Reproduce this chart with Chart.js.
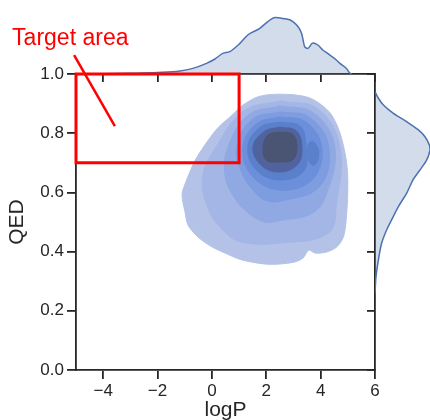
<!DOCTYPE html>
<html>
<head>
<meta charset="utf-8">
<script src="https://cdn.jsdelivr.net/npm/chart.js@4.4.1/dist/chart.umd.min.js"></script>
<style>
  html, body { margin: 0; padding: 0; background: #fff; }
  #wrap { position: relative; width: 430px; height: 420px; overflow: hidden; }
  canvas { position: absolute; top: 0; }
  #top { left: 0; z-index: 1; }
  #right { left: 300px; z-index: 1; }
  #main { left: 0; z-index: 2; }
</style>
</head>
<body>
<div id="wrap">
  <canvas id="top" width="430" height="100"></canvas>
  <canvas id="right" width="130" height="420"></canvas>
  <canvas id="main" width="430" height="420"></canvas>
</div>
<script>
Chart.defaults.font.family = '"Liberation Sans", Arial, Helvetica, sans-serif';
Chart.defaults.color = '#262626';

const axisColor = '#262626';
const xTicks = [-4, -2, 0, 2, 4, 6];
const yTicks = [0, 0.2, 0.4, 0.6, 0.8, 1.0];

// marginal density of logP (top)
const logPGrid = [-5.0, -4.0, -3.0, -2.0, -1.18, -0.70, -0.20, 0.11, 0.40, 0.66, 1.03, 1.32, 1.76, 2.06, 2.32, 2.61, 2.98, 3.30, 3.42, 3.53, 3.71, 3.90, 4.08, 4.26, 4.58, 4.71, 4.95, 5.07, 5.15];
const logPDensity = [0.000, 0.001, 0.0035, 0.0075, 0.015, 0.028, 0.053, 0.075, 0.103, 0.112, 0.153, 0.195, 0.228, 0.262, 0.283, 0.278, 0.262, 0.203, 0.135, 0.128, 0.155, 0.145, 0.120, 0.103, 0.070, 0.053, 0.028, 0.005, 0.000];

// marginal density of QED (right)
const qedGrid = [0.940, 0.918, 0.895, 0.867, 0.839, 0.811, 0.788, 0.760, 0.743, 0.709, 0.676, 0.642, 0.597, 0.552, 0.507, 0.473, 0.428, 0.372, 0.315, 0.260];
const qedDensity = [0.000, 0.017, 0.042, 0.092, 0.158, 0.217, 0.250, 0.272, 0.275, 0.258, 0.225, 0.190, 0.158, 0.117, 0.083, 0.058, 0.033, 0.017, 0.005, 0.000];

// joint KDE contour outlines [logP, QED], outermost first
const level1 = [[2.50,0.932],[3.09,0.929],[3.60,0.919],[4.04,0.895],[4.41,0.861],[4.71,0.801],[4.93,0.716],[5.00,0.642],[4.96,0.530],[4.85,0.453],[4.60,0.416],[4.23,0.399],[3.79,0.395],[3.57,0.405],[3.35,0.378],[3.05,0.365],[2.50,0.358],[1.95,0.358],[1.10,0.372],[0.48,0.395],[0.00,0.416],[-0.51,0.449],[-0.88,0.490],[-0.99,0.534],[-1.10,0.591],[-0.99,0.628],[-0.81,0.669],[-0.63,0.706],[-0.26,0.760],[0.22,0.818],[0.74,0.861],[1.10,0.892],[1.58,0.919],[1.99,0.929],[2.50,0.932]];
const level2 = [[2.50,0.909],[3.90,0.882],[4.71,0.753],[4.58,0.562],[4.29,0.463],[2.50,0.429],[1.10,0.432],[0.48,0.466],[-0.15,0.547],[-0.33,0.659],[0.15,0.753],[1.17,0.875],[2.50,0.909]];
const level3 = [[2.50,0.892],[3.75,0.868],[4.52,0.753],[4.22,0.596],[3.70,0.530],[2.50,0.505],[1.95,0.500],[1.29,0.534],[0.77,0.591],[0.48,0.659],[0.59,0.753],[1.33,0.861],[2.50,0.892]];
const level4 = [[2.50,0.872],[3.59,0.854],[4.30,0.753],[3.96,0.620],[2.50,0.570],[1.95,0.574],[1.58,0.601],[1.14,0.659],[0.92,0.753],[1.49,0.847],[2.50,0.872]];
const level5 = [[2.50,0.855],[3.44,0.839],[4.04,0.753],[3.70,0.644],[2.50,0.608],[1.46,0.658],[1.14,0.753],[1.64,0.832],[2.50,0.855]];
const level6 = [[2.50,0.838],[3.25,0.823],[3.46,0.753],[3.38,0.672],[2.50,0.642],[1.64,0.675],[1.32,0.753],[1.77,0.820],[2.50,0.838]];
const level7 = [[2.50,0.821],[3.10,0.808],[3.31,0.753],[3.15,0.694],[2.50,0.669],[1.82,0.691],[1.51,0.753],[1.93,0.806],[2.50,0.821]];
const level8 = [[2.50,0.804],[2.97,0.796],[3.13,0.753],[2.97,0.710],[2.50,0.703],[2.01,0.708],[1.88,0.753],[2.06,0.794],[2.50,0.804]];
const sideLobe = [[3.71,0.774],[3.88,0.755],[3.93,0.733],[3.88,0.705],[3.71,0.692],[3.55,0.712],[3.50,0.740],[3.56,0.765],[3.71,0.774]];

const levels = [level1, level2, level3, level4, level5, level6, level7, level8];
const levelColors = ['#b3c2e6', '#a3b6e5', '#91a9e3', '#7e9ce0', '#6b8fda', '#5a80cc', '#50639f', '#4a5473'];

// annotation
const targetBox = [[-5, 1.0], [1, 1.0], [1, 0.7], [-5, 0.7], [-5, 1.0]];
const pointerLine = [[-5.07, 1.064], [-3.57, 0.824]];
const labelText = 'Target area';
const labelPos = [-7.35, 1.098];

const toXY = pts => pts.map(p => ({ x: p[0], y: p[1] }));
const fixTicks = values => scale => { scale.ticks = values.map(v => ({ value: v })); };
const minus = v => v < 0 ? '\u2212' + Math.abs(v) : String(v);

const datasets = levels.map((lvl, i) => ({
  data: toXY(lvl),
  showLine: true,
  fill: 'shape',
  backgroundColor: levelColors[i],
  borderColor: levelColors[i],
  borderWidth: 1,
  tension: i === 0 ? 0.3 : 0.4,
  order: 100 - i * 2
}));
datasets.push({
  data: toXY(sideLobe), showLine: true, fill: 'shape',
  backgroundColor: levelColors[5], borderColor: levelColors[5], borderWidth: 1,
  tension: 0.4, order: 100 - 9
});
datasets.push({
  data: toXY(targetBox), showLine: true, fill: false,
  borderColor: '#ff0000', borderWidth: 3, borderCapStyle: 'square', borderJoinStyle: 'miter',
  tension: 0, clip: false, order: 1
});
datasets.push({
  data: toXY(pointerLine), showLine: true, fill: false,
  borderColor: '#ff0000', borderWidth: 2.5, tension: 0, clip: false, order: 0
});

const labelPlugin = {
  id: 'targetLabel',
  afterDatasetsDraw(chart) {
    const { ctx, scales: { x, y } } = chart;
    ctx.save();
    ctx.fillStyle = '#ff0000';
    ctx.font = '23px "Liberation Sans", Arial, sans-serif';
    ctx.textBaseline = 'alphabetic';
    ctx.textAlign = 'left';
    ctx.fillText(labelText, x.getPixelForValue(labelPos[0]), y.getPixelForValue(labelPos[1]));
    ctx.restore();
  }
};

const tickGrid = { drawOnChartArea: false, color: axisColor, lineWidth: 1.8, tickLength: 9 };
const border = { color: axisColor, width: 1.8 };

new Chart(document.getElementById('main'), {
  type: 'scatter',
  data: { datasets },
  plugins: [labelPlugin],
  options: {
    responsive: false,
    animation: false,
    events: [],
    layout: { padding: { top: 74, right: 55, left: 0, bottom: 0 } },
    elements: { point: { radius: 0, hoverRadius: 0 } },
    plugins: { legend: { display: false }, tooltip: { enabled: false } },
    scales: {
      x: {
        type: 'linear', min: -5, max: 6,
        afterBuildTicks: fixTicks(xTicks),
        afterFit: s => { s.height = 50; },
        ticks: { callback: v => minus(v), font: { size: 17 }, color: axisColor, padding: 2, maxRotation: 0, autoSkip: false },
        grid: tickGrid,
        border: border,
        title: { display: true, text: 'logP', font: { size: 21 }, color: axisColor, padding: { top: 0, bottom: -3 } }
      },
      y: {
        type: 'linear', min: 0, max: 1,
        afterBuildTicks: fixTicks(yTicks),
        afterFit: s => { s.width = 76; },
        ticks: { callback: v => v.toFixed(1), font: { size: 17 }, color: axisColor, padding: 3 },
        grid: tickGrid,
        border: border,
        title: { display: true, text: 'QED', font: { size: 21 }, color: axisColor, padding: { top: 5, bottom: 0 } }
      }
    }
  }
});

const margFill = 'rgba(76,114,176,0.25)';
const margLine = '#4c72b0';

new Chart(document.getElementById('top'), {
  type: 'scatter',
  data: {
    datasets: [{
      data: logPGrid.map((v, i) => ({ x: v, y: logPDensity[i] })),
      showLine: true, fill: 'origin',
      backgroundColor: margFill, borderColor: margLine, borderWidth: 1.5,
      cubicInterpolationMode: 'monotone'
    }]
  },
  options: {
    responsive: false, animation: false, events: [],
    layout: { padding: { top: 2, left: 76, right: 55, bottom: 0 } },
    elements: { point: { radius: 0, hoverRadius: 0 } },
    plugins: { legend: { display: false }, tooltip: { enabled: false } },
    scales: {
      x: {
        type: 'linear', min: -5, max: 6,
        afterBuildTicks: fixTicks(xTicks),
        afterFit: s => { s.height = 26; },
        ticks: { display: false },
        grid: { drawOnChartArea: false, color: axisColor, lineWidth: 1.8, tickLength: 8 },
        border: border
      },
      y: { type: 'linear', min: 0, max: 0.36, display: false }
    }
  }
});

new Chart(document.getElementById('right'), {
  type: 'scatter',
  data: {
    datasets: [{
      data: qedGrid.map((q, i) => ({ x: qedDensity[i], y: q })),
      showLine: true, fill: 'shape',
      backgroundColor: margFill, borderColor: margLine, borderWidth: 1.5,
      tension: 0.3
    }]
  },
  options: {
    responsive: false, animation: false, events: [],
    layout: { padding: { top: 74, left: 0, right: 0, bottom: 50 } },
    elements: { point: { radius: 0, hoverRadius: 0 } },
    plugins: { legend: { display: false }, tooltip: { enabled: false } },
    scales: {
      x: { type: 'linear', min: 0, max: 0.275, display: false },
      y: {
        type: 'linear', min: 0, max: 1, position: 'left',
        afterBuildTicks: fixTicks(yTicks),
        afterFit: s => { s.width = 75; },
        ticks: { display: false },
        grid: { drawOnChartArea: false, color: axisColor, lineWidth: 1.8, tickLength: 8 },
        border: border
      }
    }
  }
});
</script>
</body>
</html>
